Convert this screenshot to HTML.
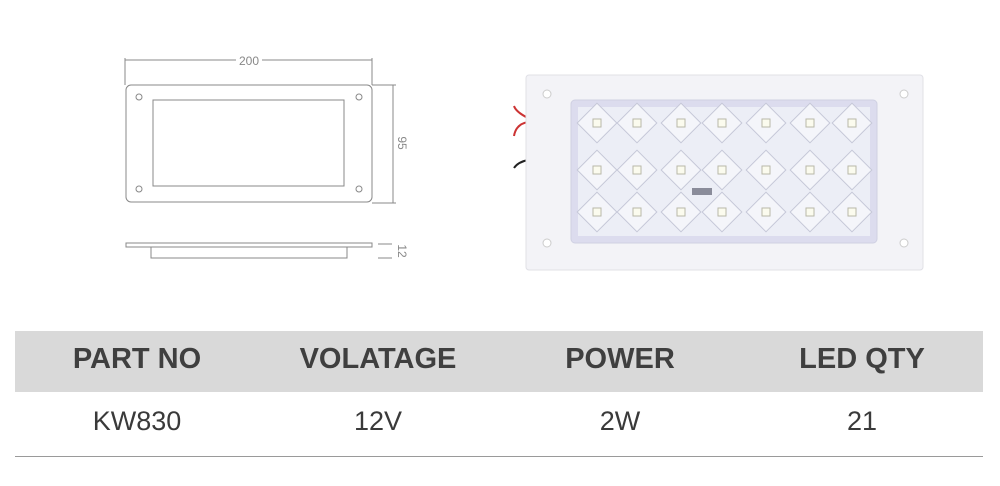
<!DOCTYPE html>
<html><head><style>
body{margin:0;width:1000px;height:486px;background:#fff;overflow:hidden;position:relative;font-family:"Liberation Sans",sans-serif}
.hdr{position:absolute;left:15px;top:331px;width:968px;height:61px;background:#d9d9d9}
.c{position:absolute;width:240px;text-align:center}
.h{top:343px;font-size:29px;font-weight:bold;color:#3f3f3f}
.d{top:406px;font-size:27px;color:#3a3a3a}
.line{position:absolute;left:15px;top:456px;width:968px;height:1px;background:#9a9a9a}
</style></head><body>
<svg width="1000" height="300" style="position:absolute;left:0;top:0">
<g stroke="#888" fill="none" stroke-width="1">
<line x1="125" y1="60" x2="372" y2="60"/><line x1="125" y1="58" x2="125" y2="85"/><line x1="372" y1="58" x2="372" y2="85"/>
<rect x="126" y="85" width="246" height="117" rx="5"/>
<rect x="153" y="100" width="191" height="86"/>
<circle cx="139" cy="97" r="3"/><circle cx="359" cy="97" r="3"/><circle cx="139" cy="189" r="3"/><circle cx="359" cy="189" r="3"/>
<line x1="372" y1="85" x2="396" y2="85"/><line x1="372" y1="203" x2="396" y2="203"/><line x1="393" y1="85" x2="393" y2="203"/>
<rect x="126" y="243" width="246" height="4"/>
<rect x="151" y="247" width="196" height="11"/>
<line x1="378" y1="244" x2="392" y2="244"/><line x1="378" y1="258" x2="392" y2="258"/>
</g>
<rect x="236" y="54" width="26" height="12" fill="#fff"/>
<text x="249" y="65" font-size="12" fill="#888" text-anchor="middle" font-family="Liberation Sans">200</text>
<text transform="translate(398,143) rotate(90)" font-size="12" fill="#888" text-anchor="middle" font-family="Liberation Sans">95</text>
<text transform="translate(398,251) rotate(90)" font-size="12" fill="#888" text-anchor="middle" font-family="Liberation Sans">12</text>
<path d="M528 118 q-12 -6 -14 -12 M528 122 q-12 2 -14 14" stroke="#c33" stroke-width="2" fill="none"/>
<path d="M528 160 q-10 2 -14 8" stroke="#222" stroke-width="2" fill="none"/>
<rect x="526" y="75" width="397" height="195" rx="3" fill="#f3f3f7" stroke="#e0e0e6"/>
<circle cx="547" cy="94" r="4" fill="#fff" stroke="#ccc"/><circle cx="904" cy="94" r="4" fill="#fff" stroke="#ccc"/>
<circle cx="547" cy="243" r="4" fill="#fff" stroke="#ccc"/><circle cx="904" cy="243" r="4" fill="#fff" stroke="#ccc"/>
<rect x="571" y="100" width="306" height="143" rx="4" fill="#dcdcee" stroke="#cfd0e2"/>
<rect x="578" y="107" width="292" height="129" fill="#eceef6"/>
<g fill="#f4f5fa" stroke="#c6c8d8">
<g id="r1">
<rect x="583" y="109" width="28" height="28" transform="rotate(45 597 123)"/>
<rect x="623" y="109" width="28" height="28" transform="rotate(45 637 123)"/>
<rect x="667" y="109" width="28" height="28" transform="rotate(45 681 123)"/>
<rect x="708" y="109" width="28" height="28" transform="rotate(45 722 123)"/>
<rect x="752" y="109" width="28" height="28" transform="rotate(45 766 123)"/>
<rect x="796" y="109" width="28" height="28" transform="rotate(45 810 123)"/>
<rect x="838" y="109" width="28" height="28" transform="rotate(45 852 123)"/>
</g>
<use href="#r1" y="47"/><use href="#r1" y="89"/>
</g>
<g fill="#fbfbee" stroke="#b8b8a8">
<g id="l1">
<rect x="593" y="119" width="8" height="8"/><rect x="633" y="119" width="8" height="8"/><rect x="677" y="119" width="8" height="8"/><rect x="718" y="119" width="8" height="8"/><rect x="762" y="119" width="8" height="8"/><rect x="806" y="119" width="8" height="8"/><rect x="848" y="119" width="8" height="8"/>
</g>
<use href="#l1" y="47"/><use href="#l1" y="89"/>
</g>
<rect x="692" y="188" width="20" height="7" fill="#8a8c9a"/>
</svg>
<div class="hdr"></div>
<div class="c h" style="left:17px">PART NO</div>
<div class="c h" style="left:258px">VOLATAGE</div>
<div class="c h" style="left:500px">POWER</div>
<div class="c h" style="left:742px">LED QTY</div>
<div class="c d" style="left:17px">KW830</div>
<div class="c d" style="left:258px">12V</div>
<div class="c d" style="left:500px">2W</div>
<div class="c d" style="left:742px">21</div>
<div class="line"></div>
</body></html>
